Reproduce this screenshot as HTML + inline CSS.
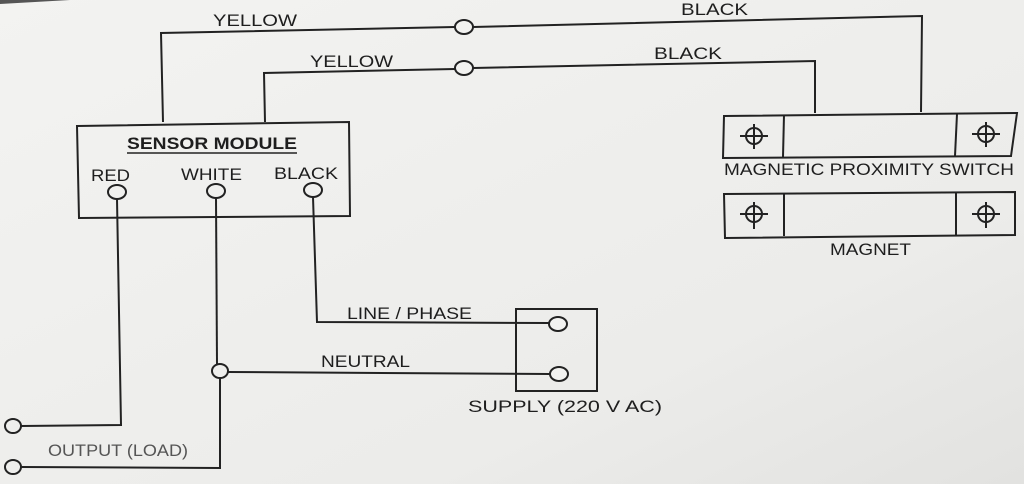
<!DOCTYPE html>
<html><head><meta charset="utf-8"><style>
html,body{margin:0;padding:0;background:#efefed;}
svg{display:block;}
text{font-family:"Liberation Sans",sans-serif;fill:#1e1e1e;font-size:17px;}
</style></head><body>
<svg width="1024" height="484" viewBox="0 0 1024 484" xmlns="http://www.w3.org/2000/svg">
<defs><linearGradient id="bg" x1="0" y1="0" x2="1" y2="1"><stop offset="0" stop-color="#f3f3f1"/><stop offset="0.7" stop-color="#ececea"/><stop offset="1" stop-color="#e2e2e0"/></linearGradient></defs>
<rect width="1024" height="484" fill="url(#bg)"/>
<path d="M0,0 L70,0 L0,4 Z" fill="#555"/>
<g stroke="#222" stroke-width="2" fill="none">
<polyline points="163,122 161,33 455,27"/>
<ellipse cx="464" cy="27" rx="9" ry="7" fill="#f2f2f0"/>
<polyline points="473,27 922,16 921,112"/>
<polyline points="265,122 264,73 455,69"/>
<ellipse cx="464" cy="68" rx="9" ry="7" fill="#f2f2f0"/>
<polyline points="473,68 815,61 815,113"/>
<polygon points="77,126 349,122 350,216 79,218"/>
<ellipse cx="117" cy="192" rx="9" ry="7"/>
<ellipse cx="216" cy="191" rx="9" ry="7"/>
<ellipse cx="313" cy="190" rx="9" ry="7"/>
<polyline points="117,199 121,425 21,426"/>
<ellipse cx="13" cy="426" rx="8" ry="7"/>
<polyline points="216,198 217,364"/>
<polyline points="220,378 220,468 21,467"/>
<ellipse cx="13" cy="467" rx="8" ry="7"/>
<ellipse cx="220" cy="371" rx="8" ry="7"/>
<polyline points="313,197 317,322 549,323"/>
<line x1="228" y1="372" x2="550" y2="374"/>
<rect x="516" y="309" width="81" height="82"/>
<ellipse cx="558" cy="324" rx="9" ry="7" fill="#f2f2f0"/>
<ellipse cx="559" cy="374" rx="9" ry="7" fill="#f2f2f0"/>
<polygon points="724,116 1017,113 1011,156 723,158"/>
<line x1="784" y1="115" x2="783" y2="157"/>
<line x1="957" y1="114" x2="955" y2="156"/>
<polygon points="724,194 1015,192 1015,235 725,238"/>
<line x1="784" y1="194" x2="784" y2="236"/>
<line x1="956" y1="193" x2="956" y2="236"/>
</g>
<g stroke="#222" stroke-width="2" fill="none">
<circle cx="754" cy="136" r="8"/><line x1="740" y1="136" x2="768" y2="136"/><line x1="754" y1="124" x2="754" y2="149"/>
<circle cx="986" cy="134" r="8"/><line x1="972" y1="134" x2="1000" y2="134"/><line x1="986" y1="122" x2="986" y2="147"/>
<circle cx="754" cy="214" r="8"/><line x1="740" y1="214" x2="768" y2="214"/><line x1="754" y1="202" x2="754" y2="229"/>
<circle cx="986" cy="214" r="8"/><line x1="972" y1="214" x2="1000" y2="214"/><line x1="986" y1="202" x2="986" y2="228"/>
</g>
<g>
<text x="213" y="26" textLength="84" lengthAdjust="spacingAndGlyphs">YELLOW</text>
<text x="310" y="67" textLength="83" lengthAdjust="spacingAndGlyphs">YELLOW</text>
<text x="681" y="15" textLength="67" lengthAdjust="spacingAndGlyphs">BLACK</text>
<text x="654" y="59" textLength="68" lengthAdjust="spacingAndGlyphs">BLACK</text>
<text x="127" y="149" font-weight="bold" textLength="170" lengthAdjust="spacingAndGlyphs">SENSOR MODULE</text>
<line x1="127" y1="153" x2="297" y2="153" stroke="#222" stroke-width="1.5"/>
<text x="91" y="181" textLength="39" lengthAdjust="spacingAndGlyphs">RED</text>
<text x="181" y="180" textLength="61" lengthAdjust="spacingAndGlyphs">WHITE</text>
<text x="274" y="179" textLength="64" lengthAdjust="spacingAndGlyphs">BLACK</text>
<text x="724" y="175" textLength="290" lengthAdjust="spacingAndGlyphs">MAGNETIC PROXIMITY SWITCH</text>
<text x="830" y="255" textLength="81" lengthAdjust="spacingAndGlyphs">MAGNET</text>
<text x="347" y="319" textLength="125" lengthAdjust="spacingAndGlyphs">LINE / PHASE</text>
<text x="321" y="367" textLength="89" lengthAdjust="spacingAndGlyphs">NEUTRAL</text>
<text x="468" y="412" textLength="194" lengthAdjust="spacingAndGlyphs">SUPPLY (220 V AC)</text>
<text x="48" y="456" style="fill:#555" textLength="140" lengthAdjust="spacingAndGlyphs">OUTPUT (LOAD)</text>
</g>
</svg>
</body></html>
